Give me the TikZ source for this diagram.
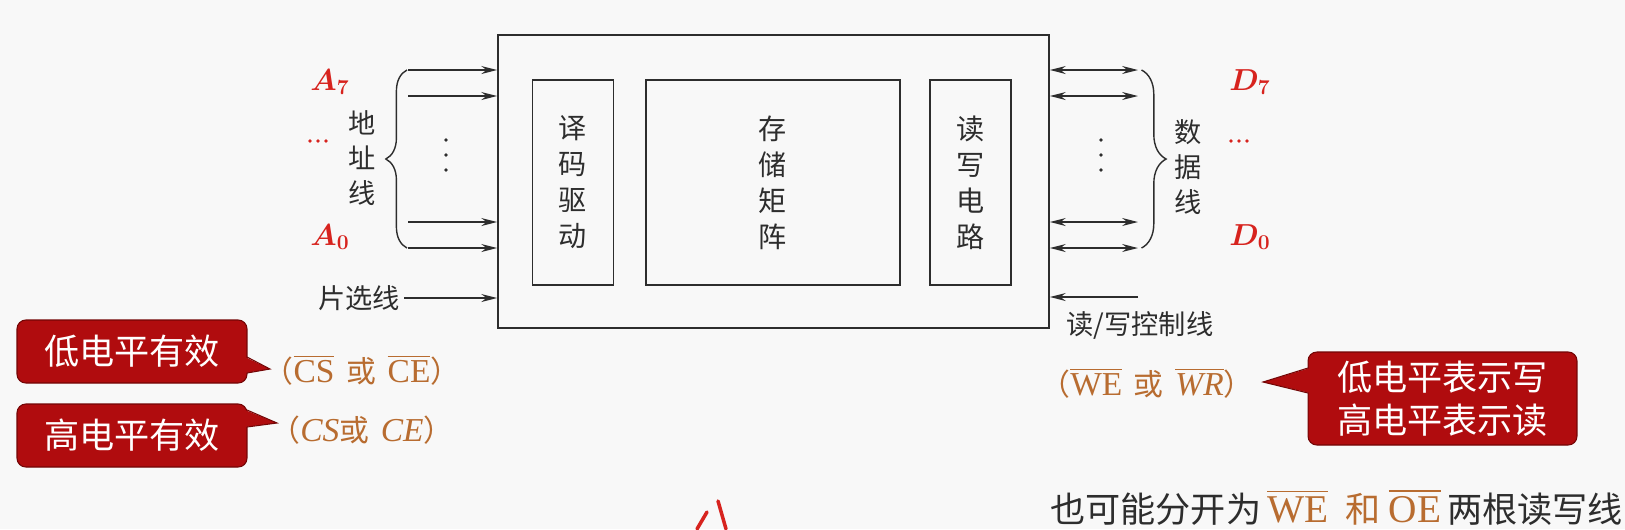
\documentclass[tikz,border=0pt]{standalone}
\usepackage{amsmath}
\usepackage{fontspec}
\newfontfamily\cjk{Noto Sans CJK SC}
\newfontfamily\latin[Scale=1.12]{Liberation Serif}
\usetikzlibrary{arrows.meta,decorations.pathreplacing}
\definecolor{bggray}{RGB}{248,248,248}
\definecolor{inkgray}{RGB}{45,45,45}
\definecolor{sigred}{RGB}{215,35,30}
\definecolor{sigbrown}{RGB}{184,108,48}
\definecolor{tipred}{RGB}{176,12,14}
\definecolor{tipdark}{RGB}{115,5,5}
\newcommand{\lowbar}[1]{$\overline{\hbox{\latin #1}}$}

\begin{document}
\begin{tikzpicture}[x=0.02cm,y=-0.02cm,line width=1pt,>={Stealth[length=9pt,width=4.5pt]}]
  \tikzstyle{every node}=[font=\cjk,text=inkgray,inner sep=2pt]
  \tikzstyle{unit}=[draw=inkgray,minimum width=1.62cm,minimum height=4.11cm,
                    align=center,font=\cjk\fontsize{16}{20.5}\selectfont]
  \tikzstyle{sig}=[align=center,font=\cjk\fontsize{15.5}{20}\selectfont]
  \tikzstyle{pin}=[text=sigred,font=\fontsize{17}{20}\selectfont\boldmath]
  \tikzstyle{code}=[text=sigbrown,font=\cjk\fontsize{17}{20}\selectfont]
  \tikzstyle{tip}=[fill=tipred,draw=tipdark,line width=0.6pt,rounded corners=5pt,
                   text=white,align=center,font=\cjk\fontsize{20}{24.5}\selectfont]
  \tikzstyle{bus}=[draw=inkgray,line width=0.8pt,decorate]

  \fill[bggray] (0,0) rectangle (1625,529);
  \useasboundingbox (0,0) rectangle (1625,529);

  \node[draw=inkgray,minimum width=11.02cm,minimum height=5.86cm] (chip) at (773.5,181.5) {};
  \node[unit] (decoder) at (573,182.5) {译\\码\\驱\\动};
  \node[unit,minimum width=5.08cm] (matrix) at (773,182.5) {存\\储\\矩\\阵};
  \node[unit] (rwcirc) at (970.5,182.5) {读\\写\\电\\路};

  \foreach \y/\n in {70/a7,96/a6,222/a1,248/a0} {
    \coordinate (\n) at (408,\y);
    \draw[->,inkgray] (\n) -- (\n -| chip.west);
  }
  \foreach \y/\n in {70/d7,96/d6,222/d1,248/d0} {
    \coordinate (\n) at (1138,\y);
    \draw[<->,inkgray] (\n -| chip.east) -- (\n);
  }
  \foreach \y in {140,155,170} {
    \fill[inkgray] (446,\y) circle (1.1pt);
    \fill[inkgray] (1101,\y) circle (1.1pt);
  }

  \draw[bus,decoration={brace,amplitude=12pt}] ([xshift=-0.6pt]a0) -- ([xshift=-0.6pt]a7);
  \draw[bus,decoration={brace,amplitude=14pt}] ([xshift=2pt]d7) -- ([xshift=2pt]d0);
  \node[sig] (addrlbl) at (362,158) {地\\址\\线};
  \node[sig] (datalbl) at (1188,167) {数\\据\\线};

  \node[pin] (a7lbl) at (330,82) {$A_7$};
  \node[pin] (a0lbl) at (330,237) {$A_0$};
  \node[pin] (d7lbl) at (1250,82) {$D_7$};
  \node[pin] (d0lbl) at (1250,237) {$D_0$};
  \foreach \dx in {-8,0,8} {
    \fill[sigred] (318+\dx,141) circle (1.1pt);
    \fill[sigred] (1239+\dx,141) circle (1.1pt);
  }

  \node[sig] (cslbl) at (359,298) {片选线};
  \draw[->,inkgray] (cslbl.east) -- (cslbl.east -| chip.west);
  \coordinate (rwin) at (1138,297);
  \draw[->,inkgray] (rwin) -- (rwin -| chip.east);
  \node[sig,anchor=west] (rwlbl) at (1062,325) {读/写控制线};

  \node[code] (lowcs) at (362,370) {（\lowbar{CS}\, 或\, \lowbar{CE}）};
  \node[code] (highcs) at (362,430) {（{\latin\itshape CS}或\, {\latin\itshape CE}）};
  \node[code] (wewr) at (1147,383) {（\lowbar{WE}\, 或\, \lowbar{\itshape WR}）};

  \node[tip,minimum width=4.6cm,minimum height=1.26cm] (lowtip) at (132,351.5) {低电平有效};
  \fill[tipred] (245,357) -- (270,369) -- (245,373) -- cycle;
  \draw[tipdark,line width=0.6pt] (247,357) -- (270,369) -- (247,373);
  \node[tip,minimum width=4.6cm,minimum height=1.26cm] (hightip) at (132,435.5) {高电平有效};
  \fill[tipred] (245,410) -- (277,423) -- (245,427) -- cycle;
  \draw[tipdark,line width=0.6pt] (247,410) -- (277,423) -- (247,427);
  \node[tip,minimum width=5.38cm,minimum height=1.86cm] (rwtip) at (1442.5,398.5) {低电平表示写\\高电平表示读};
  \fill[tipred] (1310,368) -- (1263,382) -- (1310,393) -- cycle;
  \draw[tipdark,line width=0.6pt] (1308,368) -- (1263,382) -- (1308,393);

  \node[anchor=west,font=\cjk\fontsize{20}{24}\selectfont] (note) at (1046,507)
    {也可能分开为\,\textcolor{sigbrown}{\lowbar{WE}\enspace 和 \lowbar{OE}}\,两根读写线};

  \draw[sigred,line width=2pt,line cap=round] (707,512) -- (697,529);
  \draw[sigred,line width=2pt,line cap=round] (718,501) -- (726,529);
\end{tikzpicture}
\end{document}
